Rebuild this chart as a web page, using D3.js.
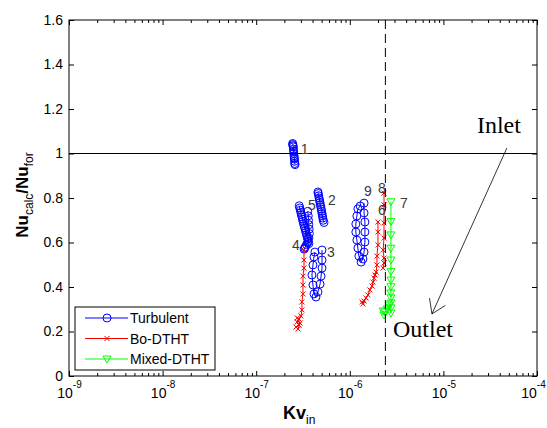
<!DOCTYPE html>
<html>
<head>
<meta charset="utf-8">
<script src="https://cdn.jsdelivr.net/npm/d3@7"></script>
<style>
  body { margin: 0; background: #fff; }
  svg text { font-family: "Liberation Sans", Arial, sans-serif; }
</style>
</head>
<body>
<div id="chart"></div>
<script>
// data
var xDecades = [1e-9, 1e-8, 1e-7, 1e-6, 1e-5, 1e-4];
var yTicks = [0, 0.2, 0.4, 0.6, 0.8, 1, 1.2, 1.4, 1.6];
var seriesNames = ["Turbulent", "Bo-DTHT", "Mixed-DTHT"];
var refNu = 1;          // horizontal reference line
var dashedKv = 2.4e-6;  // vertical dashed line

// Turbulent (blue circles), one array pair per case
var turb1Kv = [2.45e-7, 2.46e-7, 2.47e-7, 2.49e-7, 2.50e-7, 2.51e-7, 2.52e-7, 2.54e-7, 2.55e-7, 2.56e-7, 2.57e-7, 2.58e-7, 2.60e-7];
var turb1Nu = [1.045, 1.04, 1.035, 1.03, 1.02, 1.01, 1.0, 0.99, 0.98, 0.975, 0.965, 0.955, 0.95];
var turb2Kv = [4.57e-7, 4.60e-7, 4.65e-7, 4.70e-7, 4.75e-7, 4.80e-7, 4.85e-7, 4.90e-7, 4.95e-7, 5.00e-7, 5.05e-7, 5.10e-7, 5.15e-7, 5.20e-7, 5.30e-7];
var turb2Nu = [0.827, 0.82, 0.81, 0.80, 0.79, 0.78, 0.77, 0.76, 0.75, 0.74, 0.73, 0.72, 0.71, 0.70, 0.69];
var turb3Kv = [5.05e-7, 5.05e-7, 5.05e-7, 4.93e-7, 4.81e-7, 4.57e-7, 4.35e-7, 4.14e-7, 4.04e-7, 3.94e-7, 4.04e-7, 4.14e-7, 4.24e-7];
var turb3Nu = [0.566, 0.521, 0.485, 0.449, 0.413, 0.378, 0.355, 0.369, 0.409, 0.454, 0.499, 0.535, 0.557];
var turb4Kv = [3.55e-7, 3.60e-7, 3.62e-7, 3.65e-7, 3.68e-7, 3.70e-7, 3.65e-7, 3.55e-7, 3.45e-7, 3.35e-7, 3.30e-7, 3.25e-7];
var turb4Nu = [0.74, 0.72, 0.70, 0.68, 0.66, 0.64, 0.62, 0.60, 0.59, 0.58, 0.575, 0.57];
var turb5Kv = [2.88e-7, 2.92e-7, 2.96e-7, 3.00e-7, 3.04e-7, 3.08e-7, 3.12e-7, 3.16e-7, 3.20e-7, 3.25e-7, 3.30e-7, 3.35e-7, 3.40e-7, 3.45e-7, 3.50e-7, 3.55e-7, 3.60e-7, 3.65e-7];
var turb5Nu = [0.765, 0.755, 0.745, 0.735, 0.725, 0.715, 0.705, 0.695, 0.685, 0.675, 0.665, 0.655, 0.645, 0.635, 0.625, 0.615, 0.605, 0.595];
var turb9Kv = [1.42e-6, 1.42e-6, 1.45e-6, 1.45e-6, 1.45e-6, 1.42e-6, 1.38e-6, 1.32e-6, 1.25e-6, 1.22e-6, 1.19e-6, 1.16e-6, 1.16e-6, 1.19e-6, 1.22e-6, 1.29e-6];
var turb9Nu = [0.777, 0.733, 0.692, 0.647, 0.602, 0.557, 0.526, 0.512, 0.539, 0.575, 0.611, 0.647, 0.683, 0.719, 0.751, 0.764];

// Bo-DTHT (red crosses)
var bo4Kv = [3.24e-7, 3.24e-7, 3.24e-7, 3.16e-7, 3.16e-7, 3.16e-7, 3.08e-7, 3.08e-7, 3.01e-7, 2.87e-7, 2.74e-7, 2.87e-7, 2.66e-7, 2.80e-7, 2.94e-7, 2.74e-7];
var bo4Nu = [0.566, 0.521, 0.485, 0.449, 0.409, 0.369, 0.333, 0.297, 0.270, 0.256, 0.243, 0.229, 0.220, 0.211, 0.238, 0.261];
var bo6Kv = [2.0e-6, 2.0e-6, 2.0e-6, 1.95e-6, 1.95e-6, 1.91e-6, 1.86e-6, 1.82e-6, 1.77e-6, 1.73e-6, 1.64e-6, 1.56e-6, 1.49e-6, 1.42e-6, 1.38e-6, 1.35e-6];
var bo6Nu = [0.692, 0.647, 0.589, 0.539, 0.499, 0.467, 0.454, 0.440, 0.422, 0.404, 0.387, 0.364, 0.351, 0.337, 0.324, 0.333];
var bo8Kv = [2.32e-6, 2.32e-6, 2.32e-6, 2.32e-6, 2.27e-6, 2.32e-6, 2.32e-6, 2.27e-6];
var bo8Nu = [0.822, 0.769, 0.688, 0.620, 0.566, 0.530, 0.508, 0.485];

// Mixed-DTHT (green triangles)
var mix7Kv = [2.75e-6, 2.75e-6, 2.75e-6, 2.75e-6, 2.75e-6, 2.75e-6, 2.75e-6, 2.75e-6, 2.75e-6, 2.75e-6, 2.75e-6, 2.75e-6, 2.75e-6, 2.63e-6, 2.51e-6, 2.38e-6, 2.32e-6, 2.27e-6];
var mix7Nu = [0.783, 0.694, 0.634, 0.574, 0.521, 0.469, 0.431, 0.401, 0.373, 0.351, 0.328, 0.306, 0.283, 0.319, 0.301, 0.288, 0.274, 0.292];

// case numbers written next to the curves
var caseIds = ["1", "2", "3", "4", "5", "6", "7", "8", "9"];
var caseKv = [3.0e-7, 5.85e-7, 5.71e-7, 2.41e-7, 3.57e-7, 2.0e-6, 3.44e-6, 2.0e-6, 1.42e-6];
var caseNu = [1.0, 0.769, 0.535, 0.566, 0.746, 0.724, 0.755, 0.822, 0.809];

// Inlet -> Outlet arrow (data coordinates)
var arrowKv = [4.77e-5, 7.55e-6];
var arrowNu = [1.025, 0.279];

var svgWidth = 547;
var svgHeight = 428;
var margin = { top: 20, right: 10, bottom: 52, left: 69 };
var width = svgWidth - margin.left - margin.right;
var height = svgHeight - margin.top - margin.bottom;

var svg = d3.select("#chart")
  .append("svg")
  .attr("width", svgWidth)
  .attr("height", svgHeight)
  .style("background", "#fff");

var chartGroup = svg.append("g")
  .attr("transform", `translate(${margin.left}, ${margin.top})`);

var x = d3.scaleLog().domain([1e-9, 1e-4]).range([0, width]);
var y = d3.scaleLinear().domain([0, 1.6]).range([height, 0]);

// minor log ticks 2..9 in each decade
var minorTicks = [];
xDecades.slice(0, -1).forEach(function(d) {
  for (var k = 2; k <= 9; k++) minorTicks.push(d * k);
});

function styleAxis(g) {
  g.select(".domain").remove();
  g.selectAll(".tick line").attr("stroke", "#000");
  g.selectAll(".tick text").attr("fill", "#000").attr("font-size", 14);
}

// bottom axis
var xBottom = chartGroup.append("g")
  .attr("transform", `translate(0, ${height})`)
  .call(d3.axisBottom(x).tickValues(xDecades).tickSizeInner(-5).tickSizeOuter(0).tickFormat(() => ""))
  .call(styleAxis);
xBottom.selectAll(".tick text")
  .attr("y", 22).attr("dy", null)
  .attr("x", (d, i) => i === xDecades.length - 1 ? -4 : 0)
  .each(function(d) {
    var t = d3.select(this);
    t.append("tspan").text("10");
    t.append("tspan").attr("dy", -10).attr("font-size", 10).text(String(Math.round(Math.log10(d))));
  });
chartGroup.append("g")
  .attr("transform", `translate(0, ${height})`)
  .call(d3.axisBottom(x).tickValues(minorTicks).tickSizeInner(-3).tickSizeOuter(0).tickFormat(() => ""))
  .call(styleAxis);

// top axis
chartGroup.append("g")
  .call(d3.axisTop(x).tickValues(xDecades).tickSizeInner(-5).tickSizeOuter(0).tickFormat(() => ""))
  .call(styleAxis);
chartGroup.append("g")
  .call(d3.axisTop(x).tickValues(minorTicks).tickSizeInner(-3).tickSizeOuter(0).tickFormat(() => ""))
  .call(styleAxis);

// left / right axes
chartGroup.append("g")
  .call(d3.axisLeft(y).tickValues(yTicks).tickSizeInner(-5).tickSizeOuter(0).tickPadding(6).tickFormat(d => String(d)))
  .call(styleAxis);
chartGroup.append("g")
  .attr("transform", `translate(${width}, 0)`)
  .call(d3.axisRight(y).tickValues(yTicks).tickSizeInner(-5).tickSizeOuter(0).tickFormat(() => ""))
  .call(styleAxis);

// plot box
chartGroup.append("rect")
  .attr("x", 0).attr("y", 0)
  .attr("width", width).attr("height", height)
  .attr("fill", "none").attr("stroke", "#000");

var line = d3.line().x(d => x(d[0])).y(d => y(d[1]));

var markers = {
  circle: function(sel, c) {
    sel.append("circle").attr("r", 4).attr("fill", "none").attr("stroke", c);
  },
  cross: function(sel, c) {
    sel.append("path").attr("d", "M-2.5,-2.5L2.5,2.5M-2.5,2.5L2.5,-2.5").attr("stroke", c).attr("fill", "none");
  },
  triangle: function(sel, c) {
    sel.append("path").attr("d", "M-4,-3L4,-3L0,4Z").attr("stroke", c).attr("fill", "none");
  }
};

var series = [
  { color: "#0000ff", marker: "circle", groups: [[turb1Kv, turb1Nu], [turb2Kv, turb2Nu], [turb3Kv, turb3Nu], [turb4Kv, turb4Nu], [turb5Kv, turb5Nu], [turb9Kv, turb9Nu]] },
  { color: "#ff0000", marker: "cross", groups: [[bo4Kv, bo4Nu], [bo6Kv, bo6Nu], [bo8Kv, bo8Nu]] },
  { color: "#00ff00", marker: "triangle", groups: [[mix7Kv, mix7Nu]] }
];

series.forEach(function(s) {
  s.groups.forEach(function(g) {
    var pts = g[0].map((kv, i) => [kv, g[1][i]]);
    chartGroup.append("path")
      .datum(pts)
      .attr("d", line)
      .attr("fill", "none")
      .attr("stroke", s.color)
      .attr("stroke-width", 1);
    chartGroup.selectAll(null)
      .data(pts)
      .enter()
      .append("g")
      .attr("transform", d => `translate(${x(d[0])}, ${y(d[1])})`)
      .each(function() { markers[s.marker](d3.select(this), s.color); });
  });
});

// reference lines
chartGroup.append("line")
  .attr("x1", 0).attr("x2", width)
  .attr("y1", y(refNu)).attr("y2", y(refNu))
  .attr("stroke", "#000");
chartGroup.append("line")
  .attr("x1", x(dashedKv)).attr("x2", x(dashedKv))
  .attr("y1", 0).attr("y2", height)
  .attr("stroke", "#000")
  .attr("stroke-dasharray", "9,5");

// case numbers
chartGroup.selectAll(".caseLabel")
  .data(caseIds)
  .enter()
  .append("text")
  .attr("class", "caseLabel")
  .attr("x", (d, i) => x(caseKv[i]))
  .attr("y", (d, i) => y(caseNu[i]))
  .attr("font-size", 14)
  .attr("fill", "#3a3a3a")
  .text(d => d);

// Inlet / Outlet annotation
var ax0 = x(arrowKv[0]), ay0 = y(arrowNu[0]);
var ax1 = x(arrowKv[1]), ay1 = y(arrowNu[1]);
chartGroup.append("line")
  .attr("x1", ax0).attr("y1", ay0).attr("x2", ax1).attr("y2", ay1)
  .attr("stroke", "#000").attr("stroke-width", 0.8);
var ang = Math.atan2(ay0 - ay1, ax0 - ax1);
[-0.58, 0.58].forEach(function(da) {
  chartGroup.append("line")
    .attr("x1", ax1).attr("y1", ay1)
    .attr("x2", ax1 + 16 * Math.cos(ang + da))
    .attr("y2", ay1 + 16 * Math.sin(ang + da))
    .attr("stroke", "#000").attr("stroke-width", 0.8);
});
chartGroup.append("text")
  .attr("x", ax0 - 30).attr("y", ay0 - 15)
  .style("font-family", "'Liberation Serif', 'Times New Roman', serif")
  .attr("font-size", 24)
  .text("Inlet");
chartGroup.append("text")
  .attr("x", ax1 - 39).attr("y", ay1 + 23)
  .style("font-family", "'Liberation Serif', 'Times New Roman', serif")
  .attr("font-size", 24)
  .text("Outlet");

// legend
var legend = svg.append("g").attr("transform", "translate(75, 307)");
legend.append("rect")
  .attr("width", 140).attr("height", 63)
  .attr("fill", "#fff").attr("stroke", "#000");
seriesNames.forEach(function(name, i) {
  var s = series[i];
  var row = legend.append("g").attr("transform", `translate(0, ${11 + i * 20.5})`);
  row.append("line")
    .attr("x1", 10).attr("x2", 53)
    .attr("stroke", s.color);
  var m = row.append("g").attr("transform", "translate(32, 0)");
  markers[s.marker](m, s.color);
  row.append("text")
    .attr("x", 55).attr("y", 5)
    .attr("font-size", 14)
    .text(name);
});

// axis labels
var yLabel = svg.append("text")
  .attr("transform", "translate(28, 195) rotate(-90)")
  .attr("text-anchor", "middle");
yLabel.append("tspan").attr("font-weight", "bold").attr("font-size", 17).text("Nu");
yLabel.append("tspan").attr("font-size", 12).attr("dy", 5).text("calc");
yLabel.append("tspan").attr("font-weight", "bold").attr("font-size", 17).attr("dy", -5).text("/Nu");
yLabel.append("tspan").attr("font-size", 12).attr("dy", 5).text("for");

var xLabel = svg.append("text")
  .attr("x", 283).attr("y", 419);
xLabel.append("tspan").attr("font-weight", "bold").attr("font-size", 18).text("Kv");
xLabel.append("tspan").attr("font-size", 12).attr("dy", 5).text("in");
</script>
</body>
</html>
